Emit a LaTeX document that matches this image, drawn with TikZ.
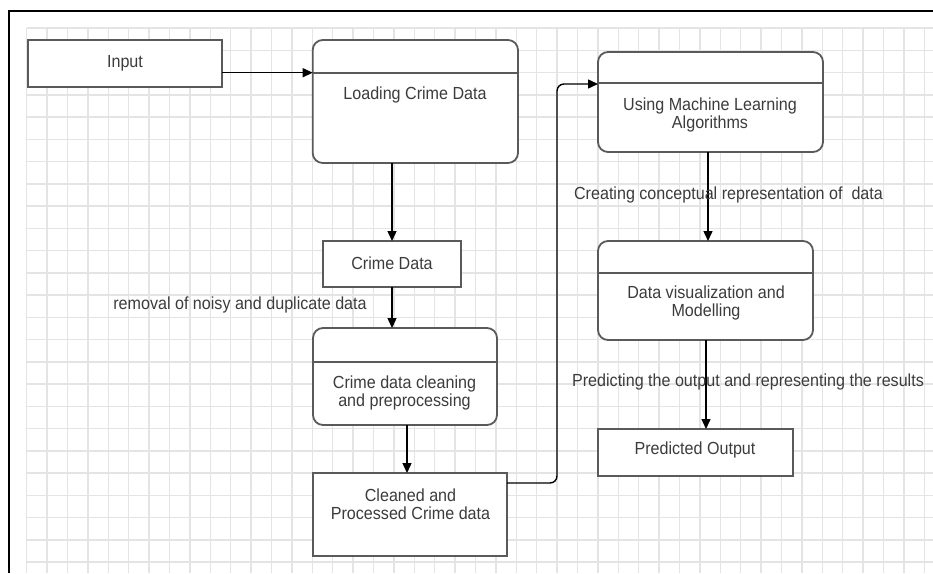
\documentclass[tikz,border=0pt]{standalone}
\usepackage{fontspec}
\setmainfont{Liberation Sans}[FakeStretch=0.92]
\usetikzlibrary{arrows.meta}
\definecolor{boxline}{HTML}{5A5A5A}
\definecolor{ink}{HTML}{3C3C3C}
\definecolor{gridline}{HTML}{E4E4E4}
\begin{document}
\begin{tikzpicture}[x=1pt,y=-1pt,
  every node/.style={font=\fontsize{17.5}{18}\selectfont, text=ink, inner sep=0pt, outer sep=0pt},
  plainbox/.style={draw=boxline, line width=1.8pt, fill=white, rectangle},
  roundbox/.style={plainbox, rounded corners=10pt},
  label/.style={align=center},
  arr/.style={draw=black, line width=1.4pt, -{Triangle[length=10pt,width=9pt]}},
  divider/.style={draw=boxline, line width=1.8pt}
]
\useasboundingbox (0,0) rectangle (933,573);
\fill[white] (0,0) rectangle (933,573);

% background grid
\foreach \k in {0,...,44} {
  \draw[gridline, line width=1.5pt] (26.7+20.4*\k,28) -- (26.7+20.4*\k,573);
}
\foreach \k in {0,...,24} {
  \draw[gridline, line width=1.5pt] (27,28+22.25*\k) -- (933,28+22.25*\k);
}

% frame
\draw[black, line width=2pt] (9,573) -- (9,11) -- (933,11);

% boxes
\node[plainbox, minimum width=194.3pt, minimum height=47pt] (input) at (124.85,63.5) {};
\node[roundbox, minimum width=205.3pt, minimum height=123pt] (load) at (415.35,101.5) {};
\node[roundbox, minimum width=225pt, minimum height=100pt] (ml) at (710.5,102) {};
\node[plainbox, minimum width=138pt, minimum height=46pt] (crimedata) at (392,264) {};
\node[roundbox, minimum width=184pt, minimum height=97pt] (clean) at (405,376.5) {};
\node[plainbox, minimum width=194pt, minimum height=83pt] (cleaned) at (410,514.5) {};
\node[roundbox, minimum width=215pt, minimum height=99pt] (datavis) at (705.5,290.5) {};
\node[plainbox, minimum width=195pt, minimum height=47pt] (predicted) at (695.5,452.5) {};

% compartment bars
\coordinate (loadbar) at (312.7,72.7);
\coordinate (mlbar) at (598,84);
\coordinate (cleanbar) at (313,362);
\coordinate (visbar) at (598,273);
\draw[divider] (loadbar) -- (load.east |- loadbar);
\draw[divider] (ml.west |- 0,83) -- (ml.east |- 0,83);
\draw[divider] (cleanbar) -- (clean.east |- cleanbar);
\draw[divider] (visbar) -- (datavis.east |- visbar);

% box texts
\node[label] (tinput) at (125,63) {Input};
\node[label] (tload) at (415,95) {Loading Crime Data};
\node[label] (tml) at (710,114.5) {Using Machine Learning\\Algorithms};
\node[label] (tcrime) at (392,263) {Crime Data};
\node[label] (tclean) at (404.5,392.5) {Crime data cleaning\\and preprocessing};
\node[label] (tcleaned) at (410.5,504.5) {Cleaned and\\Processed Crime data};
\node[label] (tvis) at (706,302.5) {Data visualization and\\Modelling};
\node[label] (tpred) at (695,450) {Predicted Output};

% connectors
\coordinate (cleanedout) at (507,483);
\draw[arr] (input.east |- loadbar) -- (loadbar);
\draw[arr] (crimedata.north |- load.south) -- (crimedata.north);
\draw[arr] (crimedata.south) -- (crimedata.south |- clean.north);
\draw[arr] (407,425) -- (407,473);
\draw[arr, rounded corners=7pt] (cleanedout) -- (557,483) |- (mlbar);
\draw[arr] (708,152) -- (708,241);
\draw[arr] (706,340) -- (706,429);

% connector captions
\node (cap1) at (240,305) {removal of noisy and duplicate data};
\node (cap2) at (728.5,195) {Creating conceptual representation of \ data};
\node (cap3) at (748,382) {Predicting the output and representing the results};
\end{tikzpicture}
\end{document}
